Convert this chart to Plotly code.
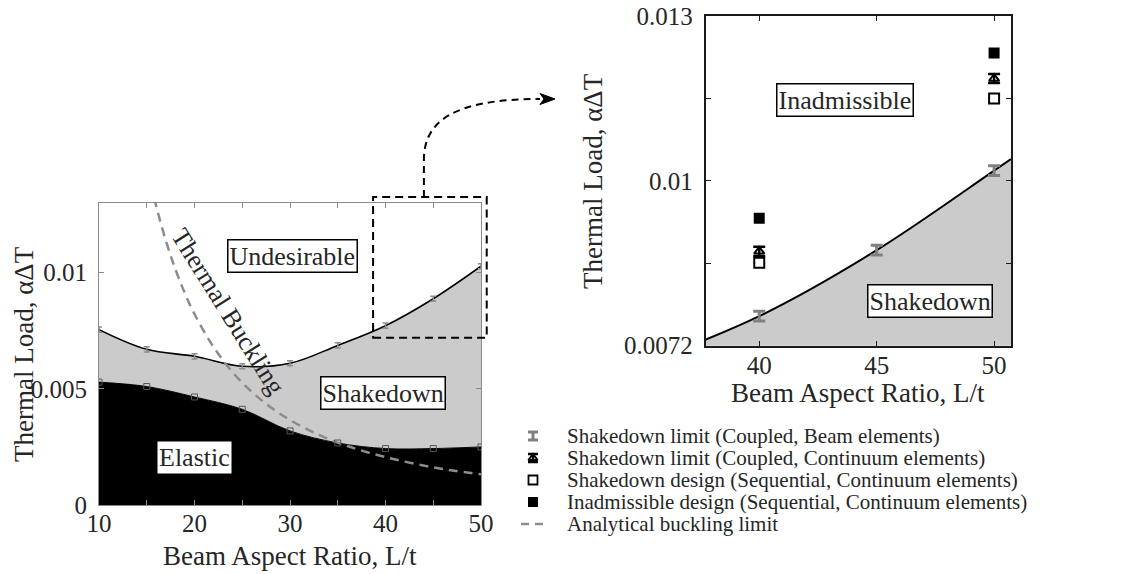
import plotly.graph_objects as go

W, H = 1147, 574
FONT = "Liberation Serif"
TXT = "#262626"
GRAY_AX = "#8a8a8a"
GRAY_FILL = "#cbcbcb"

# ---- data -------------------------------------------------------------
aspect = [10, 15, 20, 25, 30, 35, 40, 45, 50]
shakedown_beam = [0.00755, 0.0067, 0.0064, 0.00597, 0.0061, 0.00687, 0.00772, 0.00888, 0.01028]
elastic_limit = [0.00529, 0.0051, 0.00465, 0.00412, 0.00319, 0.00267, 0.00243, 0.00243, 0.0025]

buckling_x = [15.8, 16, 17, 18, 19, 20, 22, 24, 26, 28, 30, 33, 36, 40, 45, 50]
buckling_y = [0.0132, 0.01285, 0.01138, 0.01015, 0.00911, 0.00822, 0.0068, 0.00571,
              0.00487, 0.0042, 0.00366, 0.00302, 0.00254, 0.00206, 0.00162, 0.00132]

design_x = [40, 50]
continuum_limit = [0.00886, 0.0119]
sequential_safe = [0.00866, 0.01155]
sequential_fail = [0.00944, 0.01235]

left_xticks = [10, 15, 20, 25, 30, 35, 40, 45, 50]
left_xlabels = ["10", "", "20", "", "30", "", "40", "", "50"]
left_yticks = [0, 0.005, 0.01]
left_ylabels = ["0", "0.005", "0.01"]
right_xticks = [40, 45, 50]
right_yticks = [0.0072, 0.00865, 0.0101, 0.01155, 0.013]
right_ylabels = ["0.0072", "", "0.01", "", "0.013"]

legend_labels = [
    "Shakedown limit (Coupled, Beam elements)",
    "Shakedown limit (Coupled, Continuum elements)",
    "Shakedown design (Sequential, Continuum elements)",
    "Inadmissible design (Sequential, Continuum elements)",
    "Analytical buckling limit",
]

# ---- layout geometry (pixels) ----------------------------------------
L_BOX = dict(x0=99, x1=481, y0=505, y1=203)      # left plot area
R_BOX = dict(x0=705.7, x1=1011, y0=345.7, y1=16)  # right plot area
L_XR, L_YR = [10, 50], [0, 0.013]
R_XR, R_YR = [37.72, 50.72], [0.0072, 0.013]


def px(x):
    return x / W


def py(y):
    return 1 - y / H


def left_to_px(x, y):
    fx = (x - L_XR[0]) / (L_XR[1] - L_XR[0])
    fy = (y - L_YR[0]) / (L_YR[1] - L_YR[0])
    return (L_BOX["x0"] + fx * (L_BOX["x1"] - L_BOX["x0"]),
            L_BOX["y0"] + fy * (L_BOX["y1"] - L_BOX["y0"]))


fig = go.Figure()

# ---- left panel -------------------------------------------------------
fig.add_trace(go.Scatter(x=aspect, y=elastic_limit, mode="lines",
                         line=dict(color="black", width=1, shape="spline"),
                         fill="tozeroy", fillcolor="black",
                         xaxis="x", yaxis="y", showlegend=False))
fig.add_trace(go.Scatter(x=aspect, y=shakedown_beam, mode="lines",
                         line=dict(color="black", width=1.6, shape="spline"),
                         fill="tonexty", fillcolor=GRAY_FILL,
                         xaxis="x", yaxis="y", showlegend=False))
fig.add_trace(go.Scatter(x=buckling_x, y=buckling_y, mode="lines",
                         line=dict(color="#8c8c8c", width=2.5, dash="9px,6px", shape="spline"),
                         xaxis="x", yaxis="y", showlegend=False))
fig.add_trace(go.Scatter(x=aspect, y=shakedown_beam, mode="markers",
                         marker=dict(size=1, color="rgba(0,0,0,0)"),
                         error_y=dict(type="constant", value=0.00011, width=3,
                                      thickness=1.5, color="#8c8c8c"),
                         xaxis="x", yaxis="y", showlegend=False))
fig.add_trace(go.Scatter(x=aspect, y=elastic_limit, mode="markers",
                         marker=dict(symbol="square-open", size=6, color="#555555",
                                     line=dict(width=1)),
                         xaxis="x", yaxis="y", showlegend=False))

# ---- right panel ------------------------------------------------------
zoom_idx = [i for i, a in enumerate(aspect) if a >= 35]
zx = [aspect[i] for i in zoom_idx]
zy = [shakedown_beam[i] for i in zoom_idx]
slope = (zy[-1] - zy[-2]) / (zx[-1] - zx[-2])
zx_ext = zx + [R_XR[1]]
zy_ext = zy + [zy[-1] + slope * (R_XR[1] - zx[-1])]

fig.add_trace(go.Scatter(x=zx_ext, y=zy_ext, mode="lines",
                         line=dict(color="black", width=2, shape="spline"),
                         fill="tozeroy", fillcolor=GRAY_FILL,
                         xaxis="x2", yaxis="y2", showlegend=False))
fig.add_trace(go.Scatter(x=zx, y=zy, mode="markers",
                         marker=dict(size=1, color="rgba(0,0,0,0)"),
                         error_y=dict(type="constant", value=0.000085, width=6,
                                      thickness=3, color="#808080"),
                         xaxis="x2", yaxis="y2", showlegend=False))
fig.add_trace(go.Scatter(x=design_x, y=continuum_limit, mode="markers",
                         marker=dict(symbol="triangle-up-open", size=9, color="black",
                                     line=dict(width=2)),
                         error_y=dict(type="constant", value=0.00008, width=6,
                                      thickness=2.5, color="black"),
                         xaxis="x2", yaxis="y2", showlegend=False))
fig.add_trace(go.Scatter(x=design_x, y=sequential_safe, mode="markers",
                         marker=dict(symbol="square-open", size=10, color="black",
                                     line=dict(width=2)),
                         xaxis="x2", yaxis="y2", showlegend=False))
fig.add_trace(go.Scatter(x=design_x, y=sequential_fail, mode="markers",
                         marker=dict(symbol="square", size=11, color="black"),
                         xaxis="x2", yaxis="y2", showlegend=False))

# ---- legend glyphs (own hidden axes, pixel units) ---------------------
rows = [436, 458, 480, 502, 524]
gx = 533
fig.add_trace(go.Scatter(x=[gx], y=[rows[0]], mode="markers",
                         marker=dict(size=1, color="rgba(0,0,0,0)"),
                         error_y=dict(type="constant", value=4, width=5,
                                      thickness=3, color="#808080"),
                         xaxis="x3", yaxis="y3", showlegend=False))
fig.add_trace(go.Scatter(x=[gx], y=[rows[1]], mode="markers",
                         marker=dict(symbol="triangle-up-open", size=8, color="black",
                                     line=dict(width=2)),
                         error_y=dict(type="constant", value=4, width=5,
                                      thickness=2.5, color="black"),
                         xaxis="x3", yaxis="y3", showlegend=False))
fig.add_trace(go.Scatter(x=[gx], y=[rows[2]], mode="markers",
                         marker=dict(symbol="square-open", size=9, color="black",
                                     line=dict(width=1.8)),
                         xaxis="x3", yaxis="y3", showlegend=False))
fig.add_trace(go.Scatter(x=[gx], y=[rows[3]], mode="markers",
                         marker=dict(symbol="square", size=10, color="black"),
                         xaxis="x3", yaxis="y3", showlegend=False))
fig.add_trace(go.Scatter(x=[gx - 12, gx + 13], y=[rows[4], rows[4]], mode="lines",
                         line=dict(color="#8c8c8c", width=2.5, dash="8px,6px"),
                         xaxis="x3", yaxis="y3", showlegend=False))

tickfont = dict(family=FONT, size=25, color=TXT)
common_ax = dict(showgrid=False, zeroline=False, showline=True, mirror="ticks",
                 ticks="inside", ticklen=5, tickfont=tickfont, fixedrange=True,
                 automargin=False)

fig.update_layout(
    width=W, height=H, autosize=False,
    margin=dict(l=0, r=0, t=0, b=0, pad=0),
    paper_bgcolor="white", plot_bgcolor="rgba(0,0,0,0)",
    font=dict(family=FONT, color=TXT),
    xaxis=dict(common_ax, domain=[px(L_BOX["x0"]), px(L_BOX["x1"])], range=L_XR,
               tickvals=left_xticks, ticktext=left_xlabels, anchor="y",
               linecolor=GRAY_AX, tickcolor=GRAY_AX, linewidth=1, ticklabelstandoff=-4),
    yaxis=dict(common_ax, domain=[py(L_BOX["y0"]), py(L_BOX["y1"])], range=L_YR,
               tickvals=left_yticks, ticktext=left_ylabels, anchor="x",
               linecolor=GRAY_AX, tickcolor=GRAY_AX, linewidth=1, ticklabelstandoff=6),
    xaxis2=dict(common_ax, domain=[px(R_BOX["x0"]), px(R_BOX["x1"])], range=R_XR,
                tickvals=right_xticks, anchor="y2",
                linecolor="#1a1a1a", tickcolor="#1a1a1a", linewidth=2, ticklabelstandoff=-4),
    yaxis2=dict(common_ax, domain=[py(R_BOX["y0"]), py(R_BOX["y1"])], range=R_YR,
                tickvals=right_yticks, ticktext=right_ylabels, anchor="x2",
                linecolor="#1a1a1a", tickcolor="#1a1a1a", linewidth=2, ticklabelstandoff=6),
    xaxis3=dict(domain=[px(510), px(560)], range=[510, 560], visible=False,
                anchor="y3", fixedrange=True, automargin=False),
    yaxis3=dict(domain=[py(545), py(420)], range=[545, 420], visible=False,
                anchor="x3", fixedrange=True, automargin=False),
)

ann = []
title_font = dict(family=FONT, size=27, color=TXT)
label_font = dict(family=FONT, size=26, color=TXT)
# axis titles
ann.append(dict(text="Beam Aspect Ratio, L/t", x=px(290), y=py(556), xref="paper", yref="paper",
                showarrow=False, font=title_font, xanchor="center", yanchor="middle"))
ann.append(dict(text="Thermal Load, αΔT", x=px(24), y=py(354), xref="paper", yref="paper",
                showarrow=False, font=title_font, textangle=-90,
                xanchor="center", yanchor="middle"))
ann.append(dict(text="Beam Aspect Ratio, L/t", x=px(858), y=py(393), xref="paper", yref="paper",
                showarrow=False, font=title_font, xanchor="center", yanchor="middle"))
ann.append(dict(text="Thermal Load, αΔT", x=px(593), y=py(181), xref="paper", yref="paper",
                showarrow=False, font=title_font, textangle=-90,
                xanchor="center", yanchor="middle"))

# region labels, left panel
box = dict(showarrow=False, font=label_font, bgcolor="white", borderpad=1)
ann.append(dict(box, text="Undesirable", x=30.3, y=0.01073, xref="x", yref="y",
                bordercolor="black", borderwidth=1.5))
ann.append(dict(box, text="Shakedown", x=39.7, y=0.0048, xref="x", yref="y",
                bordercolor="black", borderwidth=1.5))
ann.append(dict(box, text="Elastic", x=19.95, y=0.00206, xref="x", yref="y"))
ann.append(dict(text="Thermal Buckling", x=23.5, y=0.00833, xref="x", yref="y",
                showarrow=False, font=label_font, textangle=58))

# region labels, right panel
ann.append(dict(box, text="Inadmissible", x=43.65, y=0.01153, xref="x2", yref="y2",
                bordercolor="black", borderwidth=1.5))
ann.append(dict(box, text="Shakedown", x=47.26, y=0.00799, xref="x2", yref="y2",
                bordercolor="black", borderwidth=1.5))

# legend text
for r, lab in zip(rows, legend_labels):
    ann.append(dict(text=lab, x=px(565), y=py(r), xref="paper", yref="paper",
                    showarrow=False, font=dict(family=FONT, size=21, color=TXT),
                    xanchor="left", yanchor="middle"))

fig.update_layout(annotations=ann)

# dashed zoom window on the left panel and connecting arrow
zx0, zy0 = left_to_px(38.7, 0.0072)
zx1, zy1 = left_to_px(50.6, 0.01326)
shapes = [
    dict(type="rect", xref="paper", yref="paper",
         x0=px(zx0), x1=px(zx1), y0=py(zy0), y1=py(zy1),
         line=dict(color="black", width=2, dash="8px,5px"), fillcolor="rgba(0,0,0,0)"),
]
ax0 = (zx0 + zx1) / 2 - 6
pts = [(ax0, zy1), (ax0, 160), (ax0, 122), (452, 99), (540, 99)]
P = [(px(a), py(b)) for a, b in pts]
path = (f"M {P[0][0]},{P[0][1]} L {P[1][0]},{P[1][1]} "
        f"C {P[2][0]},{P[2][1]} {P[3][0]},{P[3][1]} {P[4][0]},{P[4][1]}")
shapes.append(dict(type="path", xref="paper", yref="paper", path=path,
                   line=dict(color="black", width=2, dash="7px,5px")))
head = [(555, 99), (540, 93.5), (544, 99), (540, 104.5)]
H2 = [(px(a), py(b)) for a, b in head]
hp = "M " + " L ".join(f"{a},{b}" for a, b in H2) + " Z"
shapes.append(dict(type="path", xref="paper", yref="paper", path=hp,
                   line=dict(color="black", width=1), fillcolor="black"))
fig.update_layout(shapes=shapes)

fig.write_html("out.html")
